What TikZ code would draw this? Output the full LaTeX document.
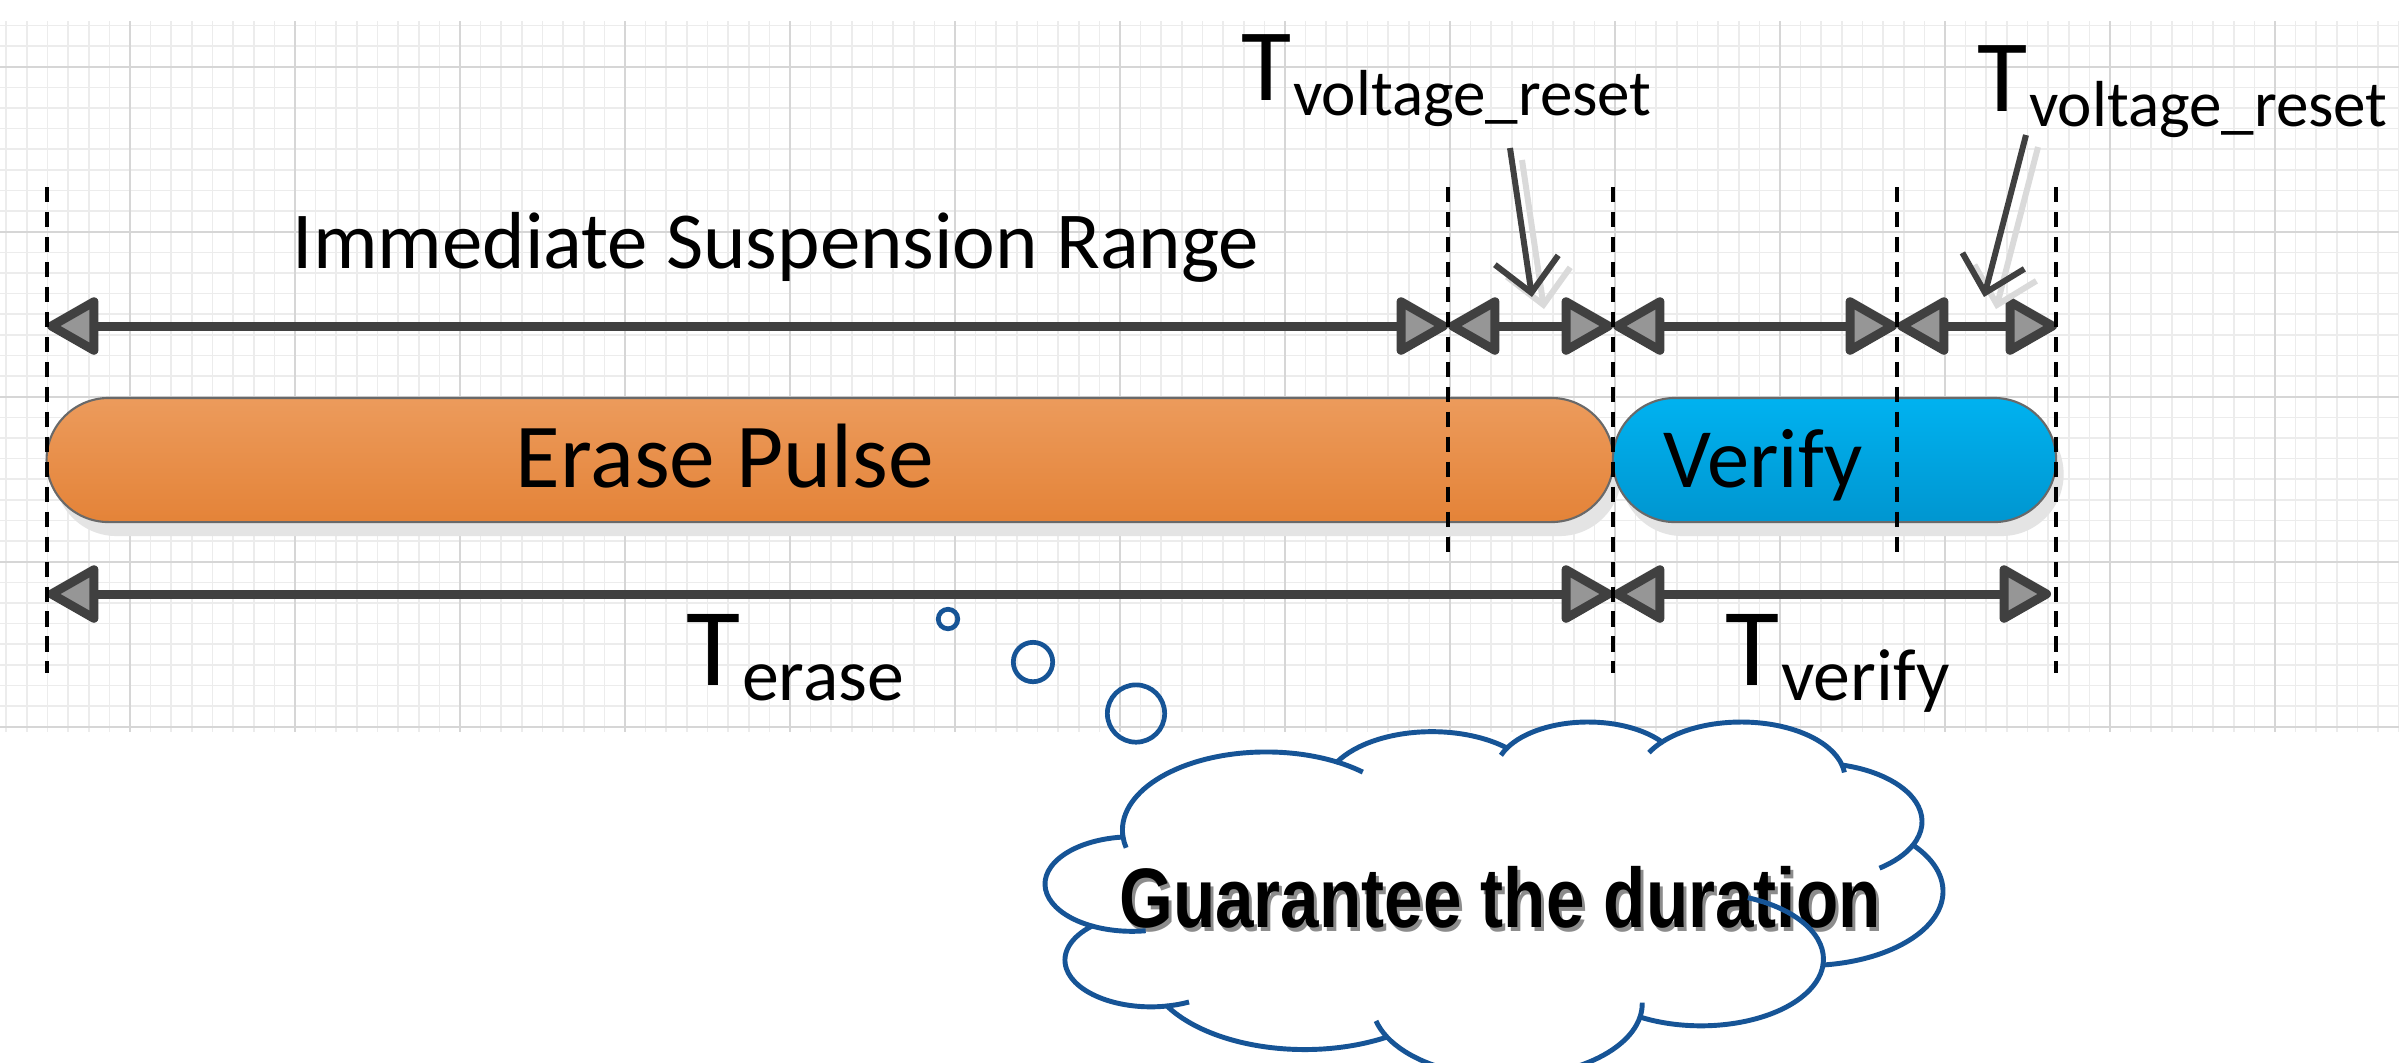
\documentclass[tikz,border=0pt]{standalone}
\usepackage{fontspec}
\setmainfont{Carlito}
\newfontfamily\cloudfont{Liberation Sans}
\usetikzlibrary{arrows.meta,shapes.misc,calc}
\definecolor{gridmin}{RGB}{236,236,236}
\definecolor{gridmaj}{RGB}{214,214,214}
\definecolor{arrline}{RGB}{64,64,64}
\definecolor{arrfill}{RGB}{150,150,150}
\definecolor{orangeT}{RGB}{236,155,92}
\definecolor{orangeB}{RGB}{228,131,56}
\definecolor{blueT}{RGB}{0,178,240}
\definecolor{blueB}{RGB}{0,150,208}
\definecolor{pillborder}{RGB}{105,105,105}
\definecolor{shadowc}{RGB}{228,228,228}
\definecolor{lshadow}{RGB}{218,218,218}
\definecolor{cloudc}{RGB}{22,84,150}
\def\cloudk{1.84}
% ellipse arc (axis ratio \cloudk) through three points: name, x1,y1, x2,y2, x3,y3
\newcommand\fitbump[7]{%
  \pgfmathsetmacro\fbXa{(#2-#4)/(100*\cloudk)}%
  \pgfmathsetmacro\fbYa{(#3-#5)/100}%
  \pgfmathsetmacro\fbXc{(#6-#4)/(100*\cloudk)}%
  \pgfmathsetmacro\fbYc{(#7-#5)/100}%
  \pgfmathsetmacro\fbd{2*(\fbXc*\fbYa-\fbXa*\fbYc)}%
  \pgfmathsetmacro\fbSa{\fbXa*\fbXa+\fbYa*\fbYa}%
  \pgfmathsetmacro\fbSc{\fbXc*\fbXc+\fbYc*\fbYc}%
  \pgfmathsetmacro\fbux{(\fbSc*\fbYa-\fbSa*\fbYc)/\fbd}%
  \pgfmathsetmacro\fbuy{(\fbSa*\fbXc-\fbSc*\fbXa)/\fbd}%
  \pgfmathsetmacro\fbr{sqrt((\fbXa-\fbux)^2+(\fbYa-\fbuy)^2)}%
  \pgfmathsetmacro\fbta{atan2(\fbYa-\fbuy,\fbXa-\fbux)}%
  \pgfmathsetmacro\fbtb{atan2(0-(\fbuy),0-(\fbux))}%
  \pgfmathsetmacro\fbtc{atan2(\fbYc-\fbuy,\fbXc-\fbux)}%
  \pgfmathsetmacro\fbdb{Mod(\fbtb-\fbta,360)}%
  \pgfmathsetmacro\fbdc{Mod(\fbtc-\fbta,360)}%
  \pgfmathsetmacro\fbte{\fbdb<\fbdc ? \fbta+\fbdc : \fbta-(360-\fbdc)}%
  \pgfmathsetmacro\fbrx{100*\cloudk*\fbr}%
  \pgfmathsetmacro\fbry{100*\fbr}%
  \expandafter\xdef\csname bump#1sa\endcsname{\fbta}%
  \expandafter\xdef\csname bump#1ea\endcsname{\fbte}%
  \expandafter\xdef\csname bump#1rx\endcsname{\fbrx}%
  \expandafter\xdef\csname bump#1ry\endcsname{\fbry}%
}
% inner arc: bump, f(orward from end)/b(ackward from start), length px, corner
\newcommand\cloudhook[4]{%
  \edef\chrx{\csname bump#1rx\endcsname}%
  \edef\chry{\csname bump#1ry\endcsname}%
  \if#2f\edef\chto{\csname bump#1ea\endcsname}\def\chsg{1}%
  \else\edef\chto{\csname bump#1sa\endcsname}\def\chsg{-1}\fi
  \pgfmathsetmacro\chsp{100*sqrt((\chrx/100*sin(\chto))^2+(\chry/100*cos(\chto))^2)}%
  \pgfmathsetmacro\chte{\chto+(\chsg)*(#3)/\chsp*57.29578}%
  \draw[cloudline] (#4) arc[start angle=\chto, end angle=\chte, x radius=\chrx, y radius=\chry];%
}
\newcommand\bumparc[1]{arc[start angle=\csname bump#1sa\endcsname, end angle=\csname bump#1ea\endcsname, x radius=\csname bump#1rx\endcsname, y radius=\csname bump#1ry\endcsname]}
\begin{document}
\fitbump{A}{1123}{837}{1260}{752}{1337}{762}%
\fitbump{B}{1337}{762}{1420}{732}{1507}{748}%
\fitbump{C}{1507}{748}{1590}{722}{1662}{742}%
\fitbump{D}{1662}{742}{1740}{722}{1842}{765}%
\fitbump{E}{1842}{765}{1922}{820}{1913}{845}%
\fitbump{F}{1913}{845}{1943}{892}{1823}{965}%
\fitbump{G}{1823}{965}{1720}{1025}{1640}{1017}%
\fitbump{H}{1640}{1017}{1503}{1077}{1387}{1037}%
\fitbump{I}{1387}{1037}{1287}{1049}{1167}{1006}%
\fitbump{J}{1167}{1006}{1065}{962}{1092}{926}%
\fitbump{K}{1092}{926}{1045}{884}{1123}{837}%
\begin{tikzpicture}[x=0.01cm,y=-0.01cm,
  dim/.style={draw=arrline, line width=2.55pt,
    >={Triangle[length=16pt,width=17.5pt,fill=arrfill,round]}, <->},
  dashline/.style={draw=black, line width=1.4pt, dash pattern=on 4.3pt off 2.8pt},
  pill/.style={rounded rectangle, draw=pillborder, line width=0.6pt, inner sep=0pt, minimum height=35.28pt},
  pillshadow/.style={rounded rectangle, fill=shadowc, draw=none, inner sep=0pt, minimum height=35.28pt},
  lbl/.style={inner sep=0pt, anchor=base west, text=black},
  callarrow/.style={draw=arrline, line width=1.7pt, -{Straight Barb[length=9.4pt,width=18.2pt]}},
  callshadow/.style={draw=lshadow, line width=1.7pt, -{Straight Barb[length=9.4pt,width=18.2pt]}},
  bubble/.style={circle, draw=cloudc, line width=1.34pt, inner sep=0pt},
  cloudline/.style={draw=cloudc, line width=1.4pt, line join=round},
]
\useasboundingbox (0,0) rectangle (2399,1062);
\clip (0,0) rectangle (2399,1062);
\fill[white] (0,0) rectangle (2399,1062);

% ---------- grid ----------
\begin{scope}
  \clip (0,21) rectangle (2399,732);
  \foreach \k in {-6,...,110}{
    \draw[gridmin, line width=0.45pt] ({130+20.625*\k},21) -- ({130+20.625*\k},732);
  }
  \foreach \k in {-2,...,32}{
    \draw[gridmin, line width=0.45pt] (0,{66.7+20.625*\k}) -- (2399,{66.7+20.625*\k});
  }
  \foreach \j in {0,...,13}{
    \draw[gridmaj, line width=0.45pt] ({130+165*\j},21) -- ({130+165*\j},732);
  }
  \foreach \j in {0,...,4}{
    \draw[gridmaj, line width=0.45pt] (0,{66.7+165*\j}) -- (2399,{66.7+165*\j});
  }
\end{scope}

% ---------- pills ----------
\node[pillshadow, minimum width=445.57pt] (eraseSh) at (838,474) {};
\node[pillshadow, minimum width=126.05pt] (verifySh) at (1842,474) {};
\node[pill, top color=orangeT, bottom color=orangeB, minimum width=445.57pt] (erase) at (830,460) {};
\node[pill, top color=blueT, bottom color=blueB, minimum width=126.05pt] (verify) at (1834.5,460) {};
\node[lbl, font=\fontsize{26}{30}\selectfont] (eraseTxt) at (515,487) {Erase Pulse};
\node[lbl, font=\fontsize{24}{29}\selectfont] (verifyTxt) at (1663,487) {Verify};

% ---------- dimension arrows ----------
\coordinate (t0) at (47,326);
\coordinate (t1) at (1448,326);
\coordinate (t2) at (1613,326);
\coordinate (t3) at (1897,326);
\coordinate (t4) at (2057,326);
\coordinate (b0) at (47,594);
\coordinate (b2) at (1613,594);
\coordinate (b4) at (2051,594);
\draw[dim] (t0) -- (t1);
\draw[dim] (t1) -- (t2);
\draw[dim] (t2) -- (t3);
\draw[dim] (t3) -- (t4);
\draw[dim] (b0) -- (b2);
\draw[dim] (b2) -- (b4);

% ---------- dashed guides ----------
\coordinate (v0a) at (47,187);   \coordinate (v0b) at (47,673);
\coordinate (v1a) at (1448,187); \coordinate (v1b) at (1448,561);
\coordinate (v2a) at (1613,187); \coordinate (v2b) at (1613,673);
\coordinate (v3a) at (1897,187); \coordinate (v3b) at (1897,561);
\coordinate (v4a) at (2056,187); \coordinate (v4b) at (2056,673);
\draw[dashline] (v0a) -- (v0b);
\draw[dashline] (v1a) -- (v1b);
\draw[dashline] (v2a) -- (v2b);
\draw[dashline] (v3a) -- (v3b);
\draw[dashline] (v4a) -- (v4b);

% ---------- labels ----------
\node[lbl, font=\fontsize{23}{28}\selectfont] (imm) at (292,268) {Immediate Suspension Range};

\node[lbl, font=\fontsize{31.5}{36}\selectfont] (teT) at (686,685) {T};
\node[lbl, font=\fontsize{21}{25}\selectfont] (teS) at ($(teT.base east)+(0,15)$) {erase};
\node[lbl, font=\fontsize{31.5}{36}\selectfont] (tvT) at (1725,685) {T};
\node[lbl, font=\fontsize{21}{25}\selectfont] (tvS) at ($(tvT.base east)+(0,15)$) {verify};

\node[lbl, font=\fontsize{29.2}{34}\selectfont] (r1T) at (1241,100) {T};
\node[lbl, font=\fontsize{18.5}{22}\selectfont] (r1S) at ($(r1T.base east)+(0,15)$) {voltage\_reset};
\node[lbl, font=\fontsize{29.2}{34}\selectfont] (r2T) at (1977,111) {T};
\node[lbl, font=\fontsize{18.5}{22}\selectfont] (r2S) at ($(r2T.base east)+(0,15)$) {voltage\_reset};

% ---------- callout arrows ----------
\coordinate (a1s) at (1510,148);  \coordinate (a1e) at (1532,297);
\coordinate (a2s) at (2026,135);  \coordinate (a2e) at (1984,297);
\coordinate (a1ss) at (1522,160); \coordinate (a1se) at (1544,309);
\coordinate (a2ss) at (2038,147); \coordinate (a2se) at (1996,309);
\draw[callshadow] (a1ss) -- (a1se);
\draw[callshadow] (a2ss) -- (a2se);
\draw[callarrow] (a1s) -- (a1e);
\draw[callarrow] (a2s) -- (a2e);

% ---------- thought bubbles ----------
\node[bubble, minimum size=5.55pt] (bub1) at (948,619) {};
\node[bubble, minimum size=11.2pt] (bub2) at (1033,662) {};
\node[bubble, minimum size=16.3pt] (bub3) at (1136,713.5) {};

% ---------- cloud ----------
\coordinate (c1) at (1123,837);
\coordinate (c2) at (1337,762);
\coordinate (c3) at (1507,748);
\coordinate (c4) at (1662,742);
\coordinate (c5) at (1842,765);
\coordinate (c6) at (1913,845);
\coordinate (c7) at (1823,965);
\coordinate (c8) at (1640,1017);
\coordinate (c9) at (1387,1037);
\coordinate (c10) at (1167,1006);
\coordinate (c11) at (1092,926);
\filldraw[cloudline, fill=white]
  (c1) \bumparc{A} -- (c2) \bumparc{B} -- (c3) \bumparc{C} -- (c4) \bumparc{D}
  -- (c5) \bumparc{E} -- (c6) \bumparc{F} -- (c7) \bumparc{G} -- (c8) \bumparc{H}
  -- (c9) \bumparc{I} -- (c10) \bumparc{J} -- (c11) \bumparc{K} -- cycle;

\node[inner sep=0pt, anchor=base, text=black!45] (gshadow) at (1503,931)
  {\scalebox{0.82}[1]{\cloudfont\bfseries\fontsize{24}{28}\selectfont Guarantee the duration}};
\node[inner sep=0pt, anchor=base, text=black] (gtext) at (1500,927)
  {\scalebox{0.82}[1]{\cloudfont\bfseries\fontsize{24}{28}\selectfont Guarantee the duration}};

% inner arcs of the cloud
\cloudhook{A}{b}{11}{c1}
\cloudhook{A}{f}{29}{c2}
\cloudhook{C}{b}{10}{c3}
\cloudhook{D}{b}{18}{c4}
\cloudhook{D}{f}{8}{c5}
\cloudhook{E}{f}{35}{c6}
\cloudhook{G}{b}{85}{c7}
\cloudhook{H}{b}{15}{c8}
\cloudhook{H}{f}{21}{c9}
\cloudhook{J}{b}{23}{c10}
\cloudhook{K}{b}{51}{c11}
\end{tikzpicture}
\end{document}
